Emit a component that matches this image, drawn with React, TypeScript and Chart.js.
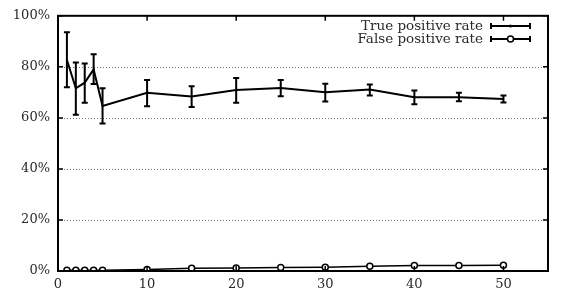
import React, { useEffect, useRef } from "react";
import { Chart, registerables } from "chart.js";

Chart.register(...registerables);

const xValues = [1, 2, 3, 4, 5, 10, 15, 20, 25, 30, 35, 40, 45, 50];
const tprMean = [82.7, 71.6, 73.8, 79.0, 64.7, 69.8, 68.4, 70.9, 71.7, 70.0, 71.1, 68.1, 68.1, 67.4];
const tprLow = [72.0, 61.2, 65.9, 73.3, 57.8, 64.6, 64.3, 65.9, 68.5, 66.4, 68.8, 65.3, 66.5, 66.0];
const tprHigh = [93.6, 81.7, 81.3, 84.9, 71.6, 74.8, 72.4, 75.6, 74.8, 73.4, 73.1, 70.7, 69.8, 68.8];
const fprMean = [0.3, 0.3, 0.3, 0.3, 0.3, 0.6, 1.1, 1.2, 1.4, 1.5, 1.9, 2.2, 2.2, 2.3];
const xTicks = [0, 10, 20, 30, 40, 50];
const yTicks = [0, 20, 40, 60, 80, 100];
const seriesLabels = ["True positive rate", "False positive rate"];

const FONT = "'DejaVu Serif', 'Liberation Serif', serif";
const TEXT_COLOR = "#2a2a2a";

const framePlugin = {
  id: "frame",
  beforeDatasetsDraw(chart: any) {
    const { ctx, chartArea: a, scales } = chart;
    const y = scales.y;
    ctx.save();
    ctx.strokeStyle = "#777";
    ctx.lineWidth = 1;
    ctx.setLineDash([1, 2]);
    yTicks.forEach((v) => {
      if (v === 0 || v === 100) return;
      const py = Math.round(y.getPixelForValue(v)) + 0.5;
      ctx.beginPath();
      ctx.moveTo(a.left, py);
      ctx.lineTo(a.right, py);
      ctx.stroke();
    });
    ctx.restore();
  },
  afterDatasetsDraw(chart: any) {
    const { ctx, chartArea: a, scales } = chart;
    const x = scales.x;
    const y = scales.y;
    ctx.save();
    // error bars
    ctx.strokeStyle = "#000";
    ctx.lineWidth = 2;
    xValues.forEach((xv, i) => {
      const px = x.getPixelForValue(xv);
      const y1 = y.getPixelForValue(tprLow[i]);
      const y2 = y.getPixelForValue(tprHigh[i]);
      ctx.beginPath();
      ctx.moveTo(px, y1);
      ctx.lineTo(px, y2);
      ctx.moveTo(px - 3, y1);
      ctx.lineTo(px + 3, y1);
      ctx.moveTo(px - 3, y2);
      ctx.lineTo(px + 3, y2);
      ctx.stroke();
    });
    // border
    ctx.lineWidth = 2;
    ctx.strokeRect(a.left, a.top, a.right - a.left, a.bottom - a.top);
    // inward ticks
    ctx.lineWidth = 1.5;
    xTicks.forEach((v) => {
      const px = x.getPixelForValue(v);
      ctx.beginPath();
      ctx.moveTo(px, a.bottom);
      ctx.lineTo(px, a.bottom - 5);
      ctx.moveTo(px, a.top);
      ctx.lineTo(px, a.top + 5);
      ctx.stroke();
    });
    yTicks.forEach((v) => {
      const py = y.getPixelForValue(v);
      ctx.beginPath();
      ctx.moveTo(a.left, py);
      ctx.lineTo(a.left + 5, py);
      ctx.moveTo(a.right, py);
      ctx.lineTo(a.right - 5, py);
      ctx.stroke();
    });
    // legend
    ctx.font = `13.5px ${FONT}`;
    ctx.textAlign = "right";
    ctx.textBaseline = "middle";
    const rows = [26, 39];
    const sx1 = 491;
    const sx2 = 530;
    seriesLabels.forEach((lab, i) => {
      const ry = rows[i];
      ctx.fillStyle = TEXT_COLOR;
      ctx.fillText(lab, 483, ry);
      ctx.fillStyle = "#000";
      ctx.lineWidth = 2;
      ctx.beginPath();
      ctx.moveTo(sx1, ry);
      ctx.lineTo(sx2, ry);
      ctx.moveTo(sx1, ry - 3);
      ctx.lineTo(sx1, ry + 3);
      ctx.moveTo(sx2, ry - 3);
      ctx.lineTo(sx2, ry + 3);
      ctx.stroke();
      const mx = (sx1 + sx2) / 2;
      if (i === 0) {
        ctx.beginPath();
        ctx.arc(mx, ry, 1.5, 0, Math.PI * 2);
        ctx.fill();
      } else {
        ctx.lineWidth = 1.5;
        ctx.fillStyle = "#fff";
        ctx.beginPath();
        ctx.arc(mx, ry, 3, 0, Math.PI * 2);
        ctx.fill();
        ctx.stroke();
      }
    });
    ctx.restore();
  },
};

export default function App() {
  const ref = useRef<HTMLCanvasElement>(null);
  useEffect(() => {
    if (!ref.current) return;
    const chart = new Chart(ref.current, {
      type: "line",
      data: {
        datasets: [
          {
            label: seriesLabels[0],
            data: xValues.map((xv, i) => ({ x: xv, y: tprMean[i] })),
            borderColor: "#000",
            borderWidth: 2,
            pointRadius: 0,
            tension: 0,
          },
          {
            label: seriesLabels[1],
            data: xValues.map((xv, i) => ({ x: xv, y: fprMean[i] })),
            borderColor: "#000",
            borderWidth: 1.5,
            pointRadius: 3,
            pointBorderWidth: 1.5,
            pointBackgroundColor: "#fff",
            pointBorderColor: "#000",
            tension: 0,
          },
        ],
      },
      plugins: [framePlugin],
      options: {
        animation: false,
        responsive: false,
        devicePixelRatio: 1,
        layout: { padding: { top: 13, right: 13, left: 0, bottom: 0 } },
        plugins: { legend: { display: false }, tooltip: { enabled: false } },
        scales: {
          x: {
            type: "linear",
            min: 0,
            max: 55,
            grid: { display: false, drawTicks: false },
            border: { display: false },
            afterBuildTicks: (s: any) => {
              s.ticks = xTicks.map((v) => ({ value: v }));
            },
            afterFit: (s: any) => {
              s.height = 20;
            },
            ticks: {
              font: { family: FONT, size: 13 },
              color: TEXT_COLOR,
              padding: 6,
              maxRotation: 0,
            },
          },
          y: {
            type: "linear",
            min: 0,
            max: 100,
            grid: { display: false, drawTicks: false },
            border: { display: false },
            afterBuildTicks: (s: any) => {
              s.ticks = yTicks.map((v) => ({ value: v }));
            },
            afterFit: (s: any) => {
              s.width = 58;
            },
            ticks: {
              font: { family: FONT, size: 13 },
              color: TEXT_COLOR,
              padding: 8,
              callback: (v: any) => v + "%",
            },
          },
        },
      },
    });
    return () => chart.destroy();
  }, []);
  return (
    <div style={{ position: "fixed", left: 0, top: 0, width: 561, height: 291, background: "#fff" }}>
      <canvas ref={ref} width={561} height={291} />
    </div>
  );
}
